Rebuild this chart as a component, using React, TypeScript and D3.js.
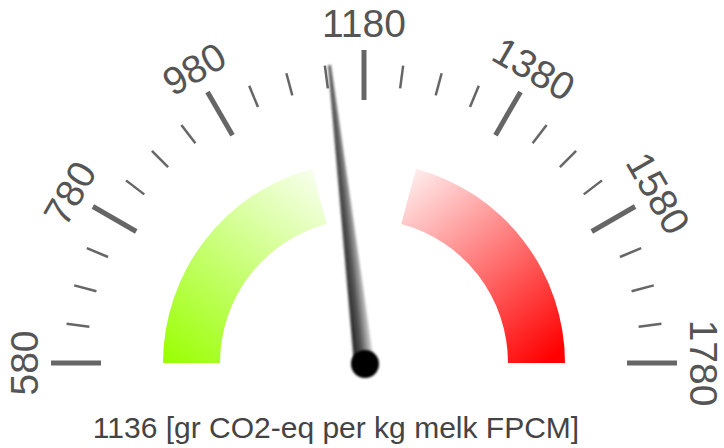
import React from "react";
import * as d3 from "d3";

// gauge data
const gaugeMin = 580;
const gaugeMax = 1780;
const majorTicks = [580, 780, 980, 1180, 1380, 1580, 1780];
const minorTicks = [
  630, 680, 730, 830, 880, 930, 1030, 1080, 1130,
  1230, 1280, 1330, 1430, 1480, 1530, 1630, 1680, 1730,
];
const bandStarts = [580, 1280];
const bandEnds = [1080, 1780];
const value = 1136;
const unitLabel = "[gr CO2-eq per kg melk FPCM]";

const W = 724;
const H = 448;
const cx = 364;
const cy = 363;

export default function App() {
  // value -> angle in degrees, 0 = straight up
  const angle = d3.scaleLinear().domain([gaugeMin, gaugeMax]).range([-90, 90]);
  const rad = (v: number) => (angle(v) * Math.PI) / 180;

  const band = d3
    .arc<any>()
    .innerRadius(144)
    .outerRadius(201)
    .startAngle((d) => rad(d[0]))
    .endAngle((d) => rad(d[1]));

  const bands = bandStarts.map((s, i) => [s, bandEnds[i]]);
  const bandFills = ["url(#gGreen)", "url(#gRed)"];

  const pt = (v: number, r: number) => [
    cx + r * Math.sin(rad(v)),
    cy - r * Math.cos(rad(v)),
  ];

  const font = "'Liberation Sans', Arial, sans-serif";

  return (
    <svg
      width={W}
      height={H}
      style={{ position: "absolute", left: 0, top: 0, background: "#fff" }}
    >
      <defs>
        {/* gradient coords are relative to the gauge centre */}
        <linearGradient id="gGreen" gradientUnits="userSpaceOnUse" x1="-195" y1="5" x2="-35" y2="-195">
          <stop offset="0" stopColor="#99ff00" stopOpacity="1" />
          <stop offset="1" stopColor="#99ff00" stopOpacity="0.03" />
        </linearGradient>
        <linearGradient id="gRed" gradientUnits="userSpaceOnUse" x1="196" y1="5" x2="36" y2="-195">
          <stop offset="0.05" stopColor="#ff0000" stopOpacity="1" />
          <stop offset="1" stopColor="#ff0000" stopOpacity="0.03" />
        </linearGradient>
        <linearGradient id="gNeedle" x1="0" y1="0" x2="1" y2="0">
          <stop offset="0" stopColor="#222" />
          <stop offset="0.45" stopColor="#555" />
          <stop offset="1" stopColor="#ddd" />
        </linearGradient>
        <filter id="soft" x="-50%" y="-5%" width="200%" height="110%">
          <feGaussianBlur stdDeviation="1" />
        </filter>
        <filter id="softC" x="-50%" y="-50%" width="200%" height="200%">
          <feGaussianBlur stdDeviation="0.9" />
        </filter>
      </defs>

      {bands.map((b, i) => (
        <path key={i} d={band(b) as string} transform={`translate(${cx},${cy})`} fill={bandFills[i]} />
      ))}

      {minorTicks.map((t) => {
        const [x1, y1] = pt(t, 277);
        const [x2, y2] = pt(t, 300);
        return <line key={t} x1={x1} y1={y1} x2={x2} y2={y2} stroke="#666" strokeWidth={2.5} />;
      })}

      {majorTicks.map((t) => {
        const [x1, y1] = pt(t, 263);
        const [x2, y2] = pt(t, 313);
        return <line key={t} x1={x1} y1={y1} x2={x2} y2={y2} stroke="#666" strokeWidth={5} />;
      })}

      {majorTicks.map((t) => {
        const [x, y] = pt(t, 326);
        return (
          <text
            key={t}
            transform={`translate(${x},${y}) rotate(${angle(t)})`}
            textAnchor="middle"
            fontFamily={font}
            fontSize={39}
            fill="#555"
          >
            {t}
          </text>
        );
      })}

      <g transform={`translate(${cx},${cy}) rotate(${angle(value)})`} filter="url(#soft)">
        <path d="M-10,0 L-1.5,-300 L1.5,-300 L10,0 Z" fill="url(#gNeedle)" />
      </g>
      <circle cx={cx + 1} cy={cy + 1} r={14} fill="#000" filter="url(#softC)" />

      <text
        x={336}
        y={438}
        textAnchor="middle"
        fontFamily={font}
        fontSize={30}
        fill="#444"
      >
        {value} {unitLabel}
      </text>
    </svg>
  );
}
